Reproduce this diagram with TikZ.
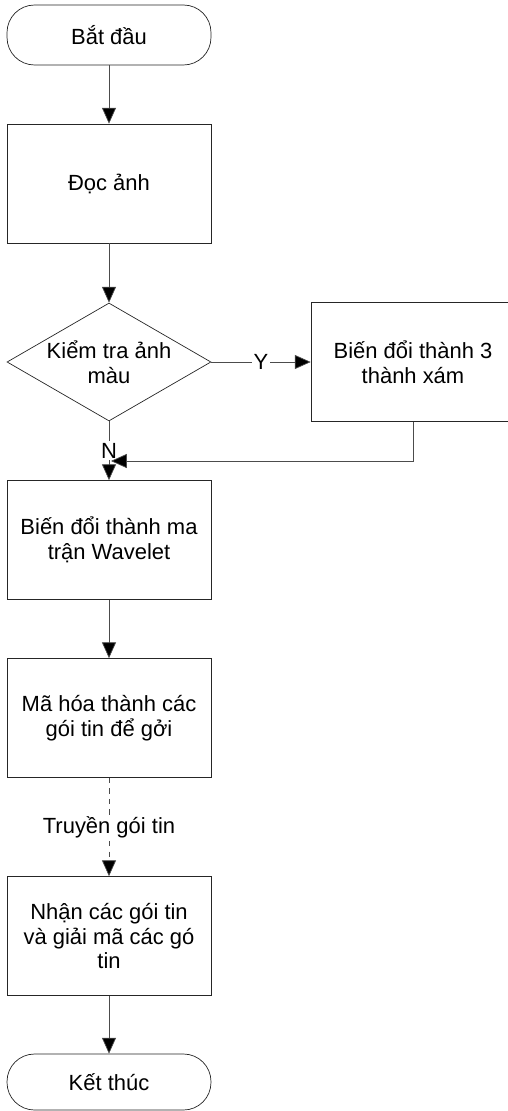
\documentclass[tikz,border=0pt]{standalone}
\usepackage{fontspec}
\setmainfont{Liberation Sans}
\usetikzlibrary{shapes.geometric,arrows.meta}

\begin{document}
\begin{tikzpicture}[x=0.02cm,y=-0.02cm,
  every node/.style={font=\fontsize{12.5}{14}\selectfont, align=center},
  term/.style={draw=black!85, rounded corners=0.55cm, minimum width=4.08cm, minimum height=1.2cm, inner sep=0pt},
  proc/.style={draw=black!85, minimum width=4.08cm, minimum height=2.38cm, inner sep=0pt},
  decision/.style={draw=black!85, diamond, aspect=1.73, minimum width=4.08cm, minimum height=2.36cm, inner sep=0pt},
  flow/.style={draw=black!70, -{Triangle[length=9pt,width=8pt,fill=black]}},
  tag/.style={fill=white, inner sep=1pt}]
\useasboundingbox (0,0) rectangle (507,1111);

\node[term] (start) at (109,35) {Bắt đầu};
\node[proc] (read) at (109,183.5) {Đọc ảnh};
\node[decision] (check) at (109,362) {Kiểm tra ảnh\\màu};
\node[proc] (gray) at (413,362) {Biến đổi thành 3\\thành xám};
\node[proc] (wave) at (109,540) {Biến đổi thành ma\\trận Wavelet};
\node[proc] (enc) at (109,718) {Mã hóa thành các\\gói tin để gởi};
\node[proc] (recv) at (109,936) {Nhận các gói tin\\và giải mã các gó\\tin};
\node[term, minimum height=1.12cm] (stop) at (109,1082) {Kết thúc};
\coordinate (merge) at (111,461);

\draw[flow] (start) -- (read);
\draw[flow] (read) -- (check);
\draw[flow] (check.east) -- node[tag] (yes) {Y} (gray.west);
\draw[flow] (check.south) -- node[tag] (no) {N} (wave.north);
\draw[flow] (gray.south) |- (merge);
\draw[flow] (wave) -- (enc);
\draw[flow, dashed] (enc) -- node[tag] (send) {Truyền gói tin} (recv);
\draw[flow] (recv) -- (stop);
\end{tikzpicture}
\end{document}
